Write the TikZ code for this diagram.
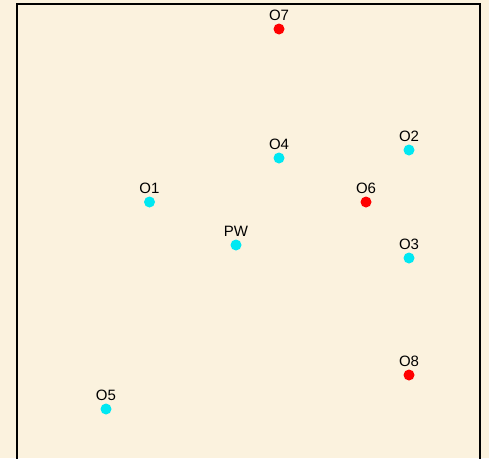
\documentclass[tikz,border=0pt]{standalone}
\usepackage{fontspec}
\setmainfont{Liberation Sans}
\definecolor{dotcyan}{RGB}{0,232,242}
\definecolor{bgbeige}{RGB}{251,242,222}
\begin{document}
\begin{tikzpicture}[x=1pt,y=-1pt,
  cdot/.style={circle,fill=dotcyan,inner sep=0pt,minimum size=11pt},
  rdot/.style={circle,fill=red,inner sep=0pt,minimum size=11pt},
  lbl/.style={font=\fontsize{15}{17}\selectfont,inner sep=0pt}]
\fill[fill=bgbeige] (0,0) rectangle (489,458);
\useasboundingbox (0,0) rectangle (489,458);
\draw[line width=2pt] (17,470) -- (17,4) -- (480,4) -- (480,470);
\node[rdot] (o7) at (279,29) {};
\node[cdot] (o4) at (279,158) {};
\node[cdot] (o2) at (409,150) {};
\node[cdot] (o1) at (149.5,202) {};
\node[rdot] (o6) at (366,202) {};
\node[cdot] (pw) at (236,245) {};
\node[cdot] (o3) at (409,258) {};
\node[rdot] (o8) at (409,375) {};
\node[cdot] (o5) at (106,409) {};
\foreach \n/\t in {o7/O7,o4/O4,o2/O2,o1/O1,o6/O6,pw/PW,o3/O3,o8/O8,o5/O5}
  \node[lbl,anchor=base] (\n l) at ([yshift=2.5pt]\n.north) {\t};
\end{tikzpicture}
\end{document}
